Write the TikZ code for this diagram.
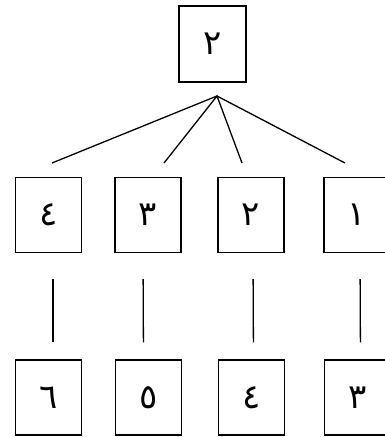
\documentclass[tikz,border=0pt]{standalone}
\usepackage{fontspec}
\newfontfamily\arabicfont[Script=Arabic]{DejaVu Sans}
\tikzset{box/.style = {draw, line width = 1.3pt, minimum width = 66, minimum height = 75,
                       inner sep = 0, font = \arabicfont\fontsize{34}{40}\selectfont}}
\tikzset{edge/.style = {line width = 1.3pt}}

\begin{document}
\begin{tikzpicture}[x = 1pt, y = -1pt]
      \useasboundingbox (0, 0) rectangle (385, 437);
      \fill [white] (0, 0) rectangle (385, 437);

      \node [box, minimum width = 67, minimum height = 76] (r) at (212.5, 44) {٢};

      \node [box] (m1) at (48.5, 215) {٤};
      \node [box] (m2) at (148, 215) {٣};
      \node [box] (m3) at (251, 215) {٢};
      \node [box] (m4) at (357, 215) {١};

      \node [box] (b1) at (48.5, 397.5) {٦};
      \node [box] (b2) at (148.5, 397.5) {٥};
      \node [box] (b3) at (251.5, 397.5) {٤};
      \node [box] (b4) at (357.5, 397.5) {٣};

      \coordinate (top) at (217, 96);
      \coordinate (e1) at (52, 163);
      \coordinate (e2) at (164, 163);
      \coordinate (e3) at (242, 163);
      \coordinate (e4) at (345, 163);

      \draw [edge] (e1) -- (top) -- (e4);
      \draw [edge] (e2) -- (top) -- (e3);

      \draw [edge, shorten <= 26, shorten >= 17] ([xshift = 4.5]m1.south) -- ([xshift = 4.5]b1.north);
      \draw [edge, shorten <= 26, shorten >= 17] ([xshift = -5]m2.south) -- ([xshift = -5]b2.north);
      \draw [edge, shorten <= 26, shorten >= 17] ([xshift = 2]m3.south) -- ([xshift = 2]b3.north);
      \draw [edge, shorten <= 26, shorten >= 17] ([xshift = 3]m4.south) -- ([xshift = 3]b4.north);
    \end{tikzpicture}
\end{document}
